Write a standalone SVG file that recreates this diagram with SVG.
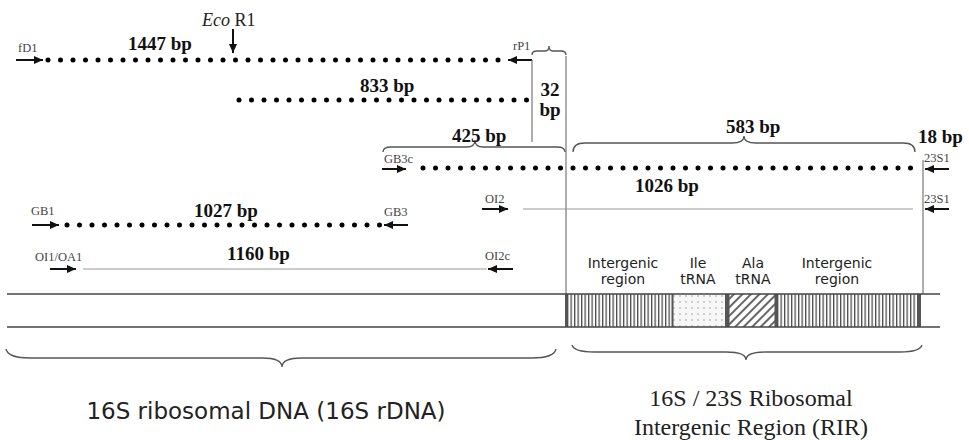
<svg xmlns="http://www.w3.org/2000/svg" width="969" height="440" viewBox="0 0 969 440">
<defs>
<style>
.bp{font-family:"Liberation Serif","Times New Roman",serif;font-weight:bold;font-size:19px;fill:#111}
.lab{font-family:"Liberation Serif","Times New Roman",serif;font-size:12.5px;fill:#444}
.dots{stroke:#000;stroke-width:5;stroke-linecap:round;stroke-dasharray:0 12.5;fill:none}
.arr{stroke:#111;stroke-width:2;fill:none;marker-end:url(#ah)}
.thin{stroke:#999;stroke-width:1;fill:none}
.vl{stroke:#777;stroke-width:1.2;fill:none}
.brace{fill:none;stroke:#555;stroke-width:1.3}
.cs{font-family:"Comic Sans MS","DejaVu Sans",sans-serif;fill:#222;text-anchor:middle}
.tm{font-family:"Liberation Serif","Times New Roman",serif;fill:#222}
.band{stroke:#444;stroke-width:1.5}
.bar{fill:#555}
</style>
<marker id="ah" markerUnits="userSpaceOnUse" markerWidth="10" markerHeight="8" refX="9" refY="4" orient="auto"><path d="M0,0 L9,4 L0,8 z" fill="#111"/></marker>
<pattern id="vstripe" width="3.5" height="10" patternUnits="userSpaceOnUse"><rect width="3.5" height="10" fill="#fff"/><rect x="0" width="1.3" height="10" fill="#4a4a4a"/></pattern>
<pattern id="dotp" width="6" height="6" patternUnits="userSpaceOnUse"><rect width="6" height="6" fill="#f7f7f7"/><circle cx="2" cy="2" r="0.7" fill="#888"/></pattern>
<pattern id="hatch" width="6" height="6" patternUnits="userSpaceOnUse" patternTransform="rotate(45)"><rect width="6" height="6" fill="#fff"/><rect width="2" height="6" fill="#666"/></pattern>
</defs>
<rect width="969" height="440" fill="#fff"/>

<g id="connectors">
<line class="arr" x1="233" y1="29" x2="233" y2="53"/>
<line class="arr" x1="16" y1="60" x2="43" y2="60"/>
<line class="arr" x1="532" y1="60" x2="508" y2="60"/>
<line class="arr" x1="382" y1="169" x2="406" y2="169"/>
<line class="arr" x1="949" y1="169" x2="925" y2="169"/>
<line class="arr" x1="32" y1="225" x2="59" y2="225"/>
<line class="arr" x1="408" y1="225" x2="384" y2="225"/>
<line class="arr" x1="482" y1="209" x2="508" y2="209"/>
<line class="arr" x1="949" y1="209" x2="925" y2="209"/>
<line class="arr" x1="50" y1="269" x2="76" y2="269"/>
<line class="arr" x1="513" y1="269" x2="488" y2="269"/>
<line class="vl" x1="532" y1="60" x2="532" y2="142"/>
<line class="vl" x1="566" y1="56" x2="566" y2="294"/>
<line class="vl" x1="923" y1="160" x2="923" y2="294"/>
</g>

<g id="ecor1">
<text class="tm" x="202" y="26" font-size="18"><tspan font-style="italic">Eco</tspan> R1</text>
</g>

<g id="amp1447">
<text class="lab" x="18" y="52">fD1</text>
<text class="bp" x="128" y="50">1447 bp</text>
<line class="dots" x1="48" y1="60" x2="498.6" y2="60"/>
<text class="lab" x="513" y="50">rP1</text>
</g>

<g id="amp833">
<text class="bp" x="360" y="92">833 bp</text>
<line class="dots" x1="239" y1="100" x2="526.6" y2="100"/>
</g>

<g id="gap32">
<path class="brace" d="M532,55 Q532,51 537,51 L545,51 Q549,51 549,46 Q549,51 553,51 L561,51 Q566,51 566,55"/>
<text class="bp" x="550" y="96" font-size="17" text-anchor="middle">32</text>
<text class="bp" x="550" y="116" font-size="17" text-anchor="middle">bp</text>
</g>

<g id="amp1026">
<path class="brace" d="M383,152 Q383,147 391,147 L467,147 Q475,147 475,140 Q475,147 483,147 L557,147 Q565,147 565,152"/>
<text class="bp" x="452" y="142">425 bp</text>
<path class="brace" d="M573,152 Q573,143 585,143 L732,143 Q744,143 744,136 Q744,143 756,143 L903,143 Q915,143 915,152"/>
<text class="bp" x="726" y="133">583 bp</text>
<text class="bp" x="918" y="143" font-size="20">18 bp</text>
<text class="lab" x="384" y="163">GB3c</text>
<line class="dots" x1="423" y1="168" x2="910.6" y2="168"/>
<text class="lab" x="924" y="162">23S1</text>
<text class="bp" x="635" y="192">1026 bp</text>
</g>

<g id="amp1027">
<text class="lab" x="31" y="215">GB1</text>
<text class="bp" x="194" y="217">1027 bp</text>
<line class="dots" x1="67" y1="225" x2="379.6" y2="225"/>
<text class="lab" x="384" y="216">GB3</text>
</g>

<g id="ampRIR">
<text class="lab" x="485" y="203">OI2</text>
<line class="thin" x1="523" y1="209" x2="913" y2="209"/>
<text class="lab" x="924" y="203">23S1</text>
</g>

<g id="amp1160">
<text class="lab" x="35" y="261">OI1/OA1</text>
<line class="thin" x1="83" y1="269" x2="487" y2="269"/>
<text class="bp" x="227" y="260">1160 bp</text>
<text class="lab" x="485" y="260">OI2c</text>
</g>

<g id="genome">
<rect x="566" y="294" width="107" height="33" fill="url(#vstripe)"/>
<rect x="673" y="294" width="52" height="33" fill="url(#dotp)"/>
<rect x="729" y="294" width="46" height="33" fill="url(#hatch)"/>
<rect x="777" y="294" width="140" height="33" fill="url(#vstripe)"/>
<rect class="bar" x="565" y="294" width="2.5" height="33"/>
<rect class="bar" x="671.5" y="294" width="2" height="33"/>
<rect class="bar" x="725" y="294" width="4.5" height="33"/>
<rect class="bar" x="774.5" y="294" width="2.5" height="33"/>
<rect class="bar" x="917" y="294" width="4" height="33"/>
<line class="band" x1="7" y1="294" x2="940" y2="294"/>
<line class="band" x1="7" y1="327" x2="940" y2="327"/>
<text class="cs" font-size="14"><tspan x="623" y="268">Intergenic</tspan><tspan x="623" y="284">region</tspan></text>
<text class="cs" font-size="14"><tspan x="698" y="268">Ile</tspan><tspan x="698" y="284">tRNA</tspan></text>
<text class="cs" font-size="14"><tspan x="753" y="268">Ala</tspan><tspan x="753" y="284">tRNA</tspan></text>
<text class="cs" font-size="14"><tspan x="837" y="268">Intergenic</tspan><tspan x="837" y="284">region</tspan></text>
</g>

<g id="rdna16s">
<path class="brace" d="M6,349 Q8,358 30,358 L262,358 Q282,358 282,367 Q282,358 302,358 L532,358 Q554,358 556,349"/>
<text class="cs" x="266" y="419" font-size="23">16S ribosomal DNA (16S rDNA)</text>
</g>

<g id="rir">
<path class="brace" d="M572,345 Q574,352 594,352 L726,352 Q746,352 746,360 Q746,352 766,352 L900,352 Q920,352 922,345"/>
<text class="tm" font-size="24" text-anchor="middle"><tspan x="751" y="406">16S / 23S Ribosomal</tspan><tspan x="751" y="435">Intergenic Region (RIR)</tspan></text>
</g>
</svg>
